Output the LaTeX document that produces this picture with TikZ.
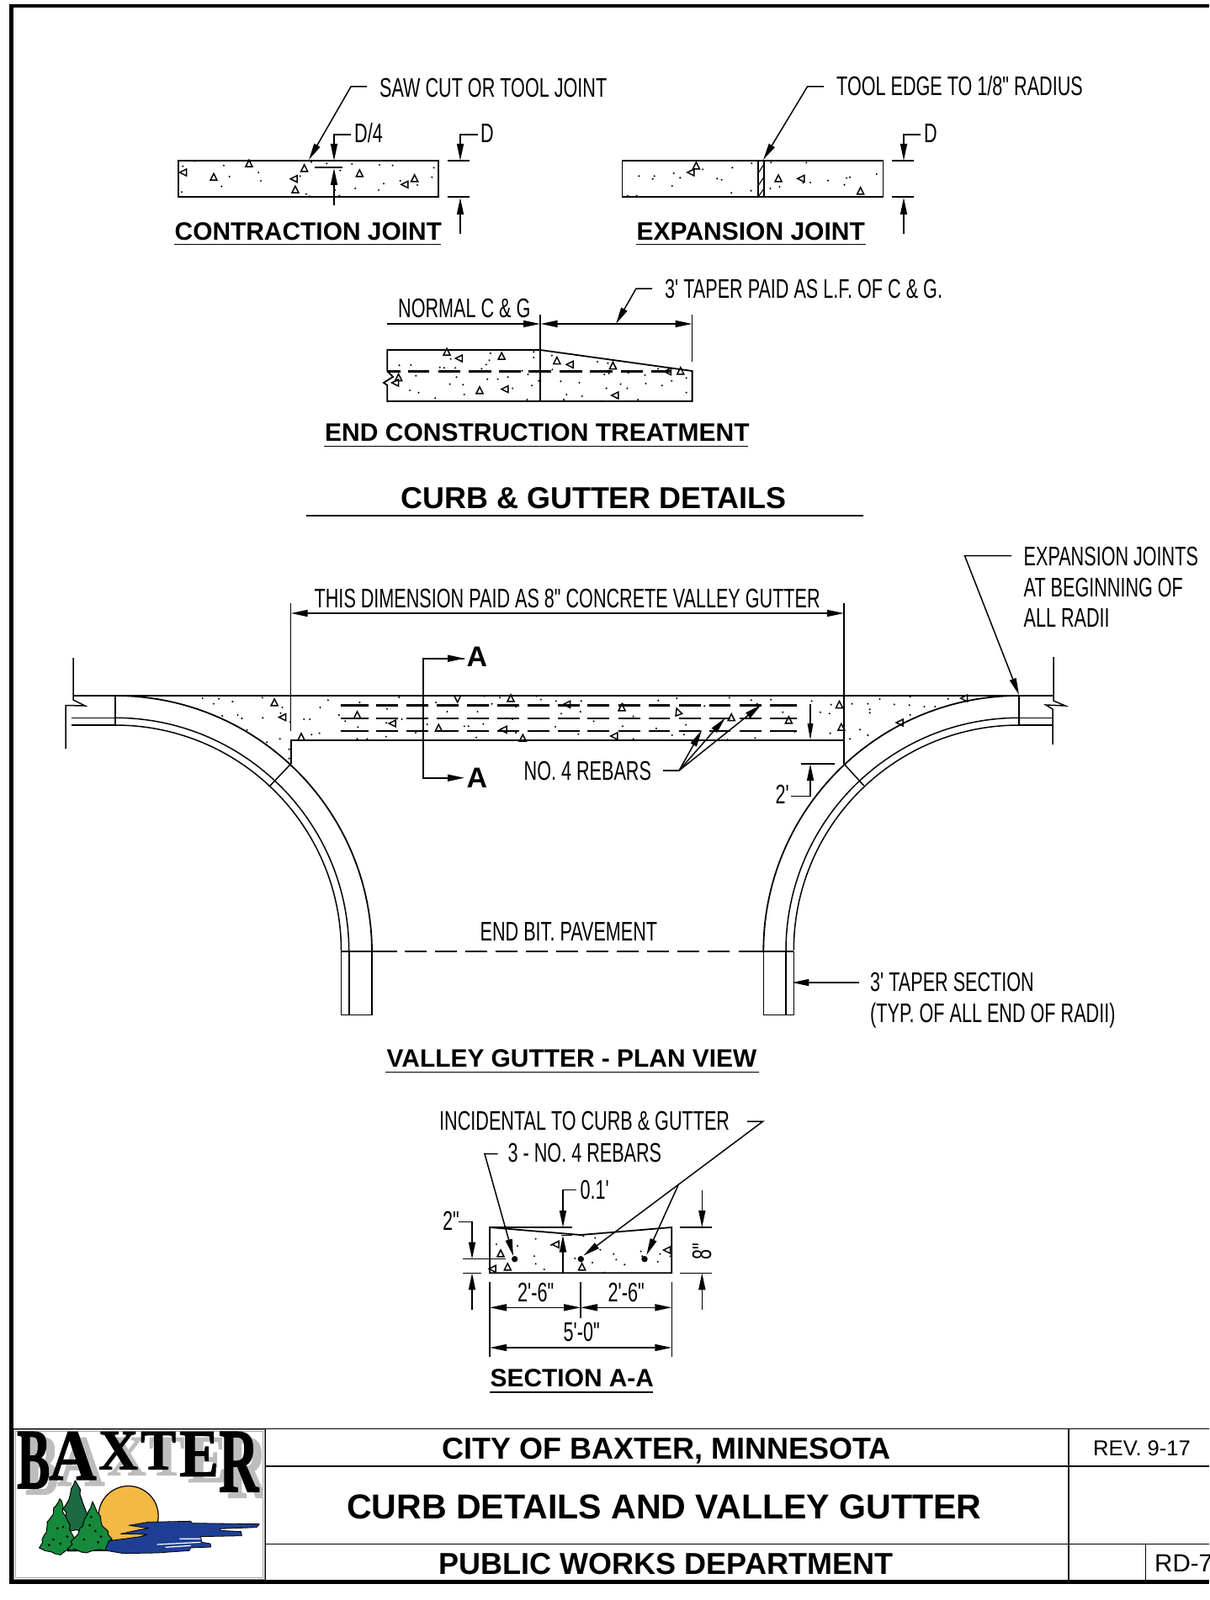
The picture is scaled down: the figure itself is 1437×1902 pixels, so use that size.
\documentclass[tikz,border=0pt]{standalone}
\usepackage{fontspec}
\usetikzlibrary{arrows.meta,decorations.pathmorphing}
\newfontfamily\cadfam[FakeStretch=0.675]{Liberation Sans}
\newfontfamily\hdfam{Liberation Sans}
\newfontfamily\logofam[FakeBold=1.5]{Liberation Serif}
\newcommand{\cadfont}{\cadfam\fontsize{32pt}{32pt}\selectfont}
\newcommand{\hdfont}[1]{\hdfam\bfseries\fontsize{#1pt}{#1pt}\selectfont}
\newcommand{\ctri}[3]{\draw[line width=1.5pt,line join=miter,shift={(#1,#2)},rotate=#3] (-4pt,-3.2pt)--(4pt,-3.2pt)--(0pt,4.8pt)--cycle;}
\newcommand{\spk}[1]{\foreach \a/\b in {#1} \fill (\a,\b) circle (1.15pt);}
\newcommand{\tris}[1]{\foreach \a/\b/\c in {#1} {\ctri{\a}{\b}{\c}}}
\newcommand{\logolet}[8]{\node[inner sep=0pt,anchor=north west,#8,rotate=#7] (#1) at (#2,#3) {\logofam\bfseries\fontsize{60pt}{60pt}\selectfont\scalebox{#5}[#6]{#4}};}
\definecolor{logoblue}{HTML}{1F3F94}
\definecolor{logosun}{HTML}{F4B942}
\definecolor{treelt}{HTML}{15893C}
\definecolor{treedk}{HTML}{1B6A40}
\definecolor{logogray}{HTML}{BDBDBD}
\tikzset{
 ol/.style={line width=1.8pt},
 ln/.style={line width=1.5pt},
 tip/.style={-{Triangle[length=20pt,width=8pt]},line width=1.5pt},
 cad/.style={font=\cadfont,anchor=base west,inner sep=0pt},
 hd/.style={anchor=base west,inner sep=0pt},
 zone2/.style={xshift=700pt,yshift=-70pt,x=0.3827pt,y=-0.3333pt},
 zone1/.style={xshift=190pt,yshift=-70pt,x=0.3333pt,y=-0.3333pt},
 zone3/.style={xshift=430pt,yshift=-320pt,x=0.4591pt,y=-0.3333pt},
 zone4/.style={xshift=60pt,yshift=-760pt,x=0.4082pt,y=-0.3333pt},
 zone5/.style={xshift=700pt,yshift=-640pt,x=0.47pt,y=-0.3333pt},
 zone7/.style={xshift=500pt,yshift=-1300pt,x=0.3333pt,y=-0.3333pt},
 zone8/.style={xshift=0pt,yshift=-1680pt,x=0.3333pt,y=-0.3333pt},
 treeedge/.style={line width=1pt,line join=round,decorate,decoration={random steps,segment length=6pt,amplitude=2.4pt}},
}
\begin{document}
\begin{tikzpicture}[x=1pt,y=-1pt,line cap=butt]
\useasboundingbox (0,0) rectangle (1437,1902);
\clip (0,0) rectangle (1437,1902);
\fill[white] (0,0) rectangle (1437,1902);

%% frame
\fill[black] (11,5) rectangle (16,1883);
\fill[black] (11,5) rectangle (1437,9);
\fill[black] (11,1878) rectangle (1437,1883);

%% ---------- contraction joint
\draw[ol] (212,191) rectangle (521,234);
\begin{scope}[zone1]
\spk{82/383,228/380,248/420,220/455,352/405,360/435,78/475,540/368,595/373,643/398,685/375,783/378,830/380,977/388,970/422,857/435,918/450,798/445,780/468,697/462,625/468,640/488,535/490,522/482,500/418,125/365}
\tris{85/405/90,192/423/0,318/375/0,515/392/0,480/428/90,483/468/0,712/410/0,875/448/90,908/428/0}
\end{scope}
\node[cad] (sawtxt) at (451,115.5) {SAW CUT OR TOOL JOINT};
\draw[tip] (436,103)--(417,103)--(367,190);
\node[cad] (d4txt) at (421,170) {D/4};
\draw[tip] (417,160)--(397,160)--(397,191);
\draw[ln] (374,199)--(407,199);
\draw[tip] (397,244)--(397,200);
\node[cad] (dtxt1) at (571,170) {D};
\draw[tip] (568,160)--(547,160)--(547,191);
\draw[ln] (532,191)--(558,191) (532,234)--(558,234);
\draw[tip] (547,278)--(547,235);
\node[hd,font=\hdfont{29.9}] (conttitle) at (207.5,285) {CONTRACTION JOINT};
\draw[ln] (207,290.5)--(524,290.5);

%% ---------- expansion joint
\draw[ol] (739.5,191) rectangle (1049.5,234);
\draw[ol] (901,191)--(901,234) (908,191)--(908,234);
\draw[line width=1.1pt] (901,206)--(908,195) (901,221)--(908,210) (901,234)--(908,224);
\begin{scope}[zone2]
\spk{155/418,203/418,198/428,263/408,283/424,258/453,353/394,445/388,398/427,412/431,505/372,503/470,442/478,565/370,675/370,563/462,592/456,665/442,687/441,742/434,800/425,810/422,793/449,893/411,120/488,148/488}
\tris{333/383/0,318/405/90,588/428/0,660/427/90,843/473/0}
\end{scope}
\node[cad] (tooltxt) at (994,114) {TOOL EDGE TO 1/8" RADIUS};
\draw[tip] (979,103)--(959.5,103)--(907,190);
\node[cad] (dtxt2) at (1098,170) {D};
\draw[tip] (1094,160)--(1074,160)--(1074,191);
\draw[ln] (1060,191)--(1086,191) (1060,234)--(1086,234);
\draw[tip] (1074,278)--(1074,235);
\node[hd,font=\hdfont{30}] (exptitle) at (756.5,285) {EXPANSION JOINT};
\draw[ln] (756,290.5)--(1029,290.5);

%% ---------- end construction
\draw[ol] (460.3,441)--(460.3,416)--(642,416)--(822.6,441)--(822.6,477)--(460.3,477)--(460.3,458)--(456,455)--(467,448)--cycle;
\draw[ol] (642,374)--(642,415);
\draw[ol] (642,416)--(642,477);
\draw[ln] (822.6,374)--(822.6,430);
\begin{scope}[zone3]
\foreach \a/\b in {66/100,120/175,198/255,277/335,355/412,432/490,512/570,590/648,670/727,750/800}
 \draw[line width=2.5pt] (\a,365)--(\b,365);
\spk{230/320,333/300,445/295,445/315,330/325,322/340,310/355,202/350,213/352,242/352,97/343,127/342,165/362,140/380,245/385,325/392,352/392,378/385,430/375,415/362,458/398,228/410,262/412,124/432,147/440,190/460,265/447,390/425,440/415,428/465,492/308,493/358,610/330,637/335,640/372,628/375,515/400,563/405,633/425,670/410,687/425,735/408,777/415,802/398,733/378,690/370,767/355,840/388,840/440,530/447,570/453,523/465,715/465,620/470}
\tris{220/297/0,253/318/90,362/312/0,505/328/0,540/340/90,650/346/0,305/434/0,372/428/90,95/388/0,88/405/90,657/450/90,793/365/90,825/365/0}
\end{scope}
\draw[tip] (460.3,385)--(642,385);
\draw[tip] (700,385)--(822.6,385);
\draw[tip] (700,385)--(642.5,385);
\node[cad] (normtxt) at (473,377.5) {NORMAL C \& G};
\node[cad] (tapertxt) at (790,354) {3' TAPER PAID AS L.F. OF C \& G.};
\draw[tip] (775,343)--(756,343)--(732,385);
\node[hd,font=\hdfont{30}] (endtitle) at (386,524) {END CONSTRUCTION TREATMENT};
\draw[ln] (385,530.5)--(889,530.5);
\node[hd,font=\hdfont{35.9}] (curbtitle) at (476.5,604.5) {CURB \& GUTTER DETAILS};
\draw[ln] (364,613)--(1026,613);

%% ---------- plan view
\draw[ln] (87,782)--(87,832)--(101,839)--(78,838.5)--(78,890);
\draw[ln] (1252,781)--(1252,833)--(1266,839)--(1243,838)--(1251,843)--(1251,885);
\draw[ol] (87,827)--(1251,827);
\draw[ln] (85,853.3)--(137,853.3) (85,862)--(137,862);
\draw[ln] (1211,853.3)--(1251,853.3) (1211,862)--(1251,862);
\draw[line width=2.6pt] (137,826)--(137,862);
\draw[line width=2.6pt] (1211,826)--(1211,862);
\draw[ol] (137,827) arc[start angle=90,end angle=0,radius=305pt];
\draw[ln] (137,853.3) arc[start angle=90,end angle=0,radius=277.7pt];
\draw[ln] (137,862) arc[start angle=90,end angle=0,radius=268.5pt];
\draw[ol] (1211,827) arc[start angle=90,end angle=180,radius=303.7pt];
\draw[ln] (1211,853.3) arc[start angle=90,end angle=180,radius=277pt];
\draw[ln] (1211,862) arc[start angle=90,end angle=180,radius=267.7pt];
% strips
\draw[ln] (405.5,1131)--(405.5,1206.7)--(442,1206.7)--(442,1131) (415,1131)--(415,1206.7);
\draw[ln] (907.3,1131)--(907.3,1206.7)--(943.3,1206.7)--(943.3,1131) (934,1131)--(934,1206.7);
\draw[ln] (405.5,1131)--(471.5,1131);
\foreach \a in {481.4,517.4,553.4,589.4,625.4,661.4,697.4,733.4,769.4,805.4,841.4}
 \draw[line width=1.8pt] (\a,1131)--(\a+26,1131);
\draw[ln] (877.5,1131)--(943.3,1131);
% gutter
\draw[ol] (345.7,908)--(345.7,880)--(1003,880)--(1003,908);
\draw[ln] (345.7,908)--(321,934);
\draw[ln] (1003,908)--(1026.7,934);
\draw[ln] (345.7,717)--(345.7,869);
\draw[ln] (1003,717)--(1003,880);
\draw[tip] (660,729)--(345.7,729);
\draw[tip] (660,729)--(1003,729);
\node[cad] (thistxt) at (373.5,722) {THIS DIMENSION PAID AS 8" CONCRETE VALLEY GUTTER};
% rebars
\foreach \y in {838.3,854,869}
 \foreach \a/\b in {405/437.5,447/473,482.5/509,519/545,555/581,590.6/617,626.5/653,662.5/688.6,698/724.4,735/761,771.4/796,807/832.5,843/868,878.6/904.5,915/946.8}
  \draw[line width=2.6pt] (\a,\y)--(\b,\y);
\begin{scope}[zone4]
\spk{443/210,490/212,530/222,475/230,617/208,500/273,545/270,557/282,618/280,572/323,630/367,668/355,675/243,670/263,698/295,738/285,755/285,695/392,695/425,760/340,783/335,808/217,785/243,840/270,858/292,900/225,980/248,1015/207,1023/285,978/298,895/313,893/355,922/355,977/347,1063/333,1097/303,1122/225,1155/258,1243/258,1285/230,1205/310,1217/310,1260/302,1240/350,1345/285,1355/240,1263/203,1308/208,1415/203,1428/215,1472/220,1487/265,1545/220,1543/258,1470/312,1537/338,1355/333}
\tris{652/227/0,677/278/90,730/350/0,893/272/0,997/300/90,1130/318/0,1185/210/180,1340/212/0,1505/232/90,1320/322/90,1375/354/0}
\end{scope}
\begin{scope}[zone5]
\spk{175/578,222/570,250/562,355/568,410/577,460/575,85/590,292/598,112/635,12/652,85/670,170/678,245/665,210/702,240/700,320/675,420/712,350/718,112/715,425/590,490/620,520/690,563/580,585/620,608/625,612/593,610/695,660/715,685/682,705/702,665/590,705/590,710/610,710/622,735/573,772/592,812/565,810/595,848/600,908/572,875/600,812/630}
\tris{83/605/0,225/620/20,360/640/0,505/650/0,65/705/90,633/595/0,638/675/0,950/570/90,787/657/90}
\end{scope}
% section marks
\draw[tip,line width=1.8pt] (552,782.7)--(503,782.7)--(503,924.7)--(552,924.7);
\draw[-{Triangle[length=20pt,width=8pt]},line width=1.8pt] (503,782.7)--(552,782.7);
\node[hd,font=\hdfont{34}] (amark1) at (554.5,792) {A};
\node[hd,font=\hdfont{34}] (amark2) at (554.5,936) {A};
\node[cad] (rebartxt) at (622.5,927) {NO. 4 REBARS};
\draw[ln] (788.4,916)--(807,916);
\draw[tip] (807,916)--(834,868);
\draw[tip] (807,916)--(862,853.3);
\draw[tip] (807,916)--(904.5,838);
\draw[-{Triangle[length=20pt,width=6.5pt]},ln] (963,836.7)--(963,880);
\draw[ln] (951.5,880)--(1003,880);
\draw[ln] (951.5,908)--(992,908);
\draw[tip] (940,946.7)--(963,946.7)--(963,908);
\node[cad] (twotxt) at (921.5,955.5) {2'};
\node[cad] (exp1) at (1216.5,672) {EXPANSION JOINTS};
\node[cad] (exp2) at (1216.5,709.5) {AT BEGINNING OF};
\node[cad] (exp3) at (1216.5,745.5) {ALL RADII};
\draw[tip] (1202,660.7)--(1146.5,660.7)--(1211,826);
\node[cad] (bittxt) at (570.5,1118.5) {END BIT. PAVEMENT};
\node[cad] (tap1) at (1034,1178.7) {3' TAPER SECTION};
\node[cad] (tap2) at (1034,1215) {(TYP. OF ALL END OF RADII)};
\draw[tip] (1021,1168)--(941.4,1168);
\node[hd,font=\hdfont{29.9}] (plantitle) at (459.5,1268.5) {VALLEY GUTTER - PLAN VIEW};
\draw[ln] (458,1274.5)--(902,1274.5);

%% ---------- section A-A
\draw[ol] (582,1459)--(582,1513.3)--(798.3,1513.3)--(798.3,1459)--(690,1468)--cycle;
\draw[ol] (582,1459)--(680,1459);
\draw[ln] (667,1468.3)--(680,1468.3);
\draw[tip,line width=1.8pt] (669,1513)--(669,1468.5);
\begin{scope}[zone7]
\spk{270/538,345/543,410/518,465/540,580/508,622/515,405/580,410/607,440/627,550/588,612/603,640/557,688/572,697/592,727/610,785/563,790/580,853/572,845/600,890/580,655/638}
\tris{285/572/0,483/538/90,575/620/0,310/620/0,258/625/90,880/558/90}
\end{scope}
\fill (611.7,1496.7) circle (3.7pt) (690.3,1496.7) circle (3.7pt) (766,1496.7) circle (3.7pt);
\node[cad] (inctxt) at (522,1343.5) {INCIDENTAL TO CURB \& GUTTER};
\node[cad] (threetxt) at (603.5,1381) {3 - NO. 4 REBARS};
\draw[tip] (591.7,1371.7)--(576,1371.7)--(610,1493);
\draw[tip] (888,1333)--(906.7,1333)--(693.3,1492.7);
\draw[tip] (806.7,1407.3)--(768.3,1492);
\node[cad] (ptone) at (689.5,1425) {0.1'};
\draw[tip] (685,1414.7)--(669,1414.7)--(669,1459);
\node[cad] (twoin) at (526,1462.5) {2"};
\draw[tip] (545,1452.7)--(561,1452.7)--(561,1496.7);
\draw[ln] (550,1496.7)--(601,1496.7);
\draw[ln] (550,1513.3)--(571.7,1513.3);
\draw[tip] (561,1557)--(561,1513.3);
\draw[ln] (808.3,1459)--(846,1459) (808.3,1513.3)--(846,1513.3);
\draw[tip] (834.3,1415)--(834.3,1459);
\draw[tip] (834.3,1557)--(834.3,1513.3);
\node[font=\cadfont,inner sep=0pt,rotate=90] (eight) at (834,1488) {8"};
\draw[ln] (582,1524)--(582,1613) (798.3,1524)--(798.3,1613) (690,1524)--(690,1566.7);
\draw[tip] (636,1554.3)--(582,1554.3);
\draw[tip] (636,1554.3)--(690,1554.3);
\draw[tip] (744,1554.3)--(690,1554.3);
\draw[tip] (744,1554.3)--(798.3,1554.3);
\draw[tip] (690,1602)--(582,1602);
\draw[tip] (690,1602)--(798.3,1602);
\node[cad] (sixa) at (615,1547) {2'-6"};
\node[cad] (sixb) at (722.5,1547) {2'-6"};
\node[cad] (fivezero) at (669.5,1594.5) {5'-0"};
\node[hd,font=\hdfont{29.9}] (secttitle) at (582.5,1648) {SECTION A-A};
\draw[ln] (582,1655)--(776,1655);

%% ---------- title block
\draw[ln] (16,1698.3)--(1437,1698.3);
\draw[line width=1.8pt] (316,1743.3)--(1437,1743.3);
\draw[ln] (316,1835.7)--(1437,1835.7);
\draw[line width=1.8pt] (1270,1698.3)--(1270,1878);
\draw[ln] (1361.7,1835.7)--(1361.7,1878);
\draw[line width=1.8pt] (315.5,1698.3)--(315.5,1878);
\node[hd,font=\hdfont{36}] (citytxt) at (525,1734) {CITY OF BAXTER, MINNESOTA};
\node[hd,font=\hdfont{41.1}] (curbdet) at (412,1805.7) {CURB DETAILS AND VALLEY GUTTER};
\node[hd,font=\hdfont{36}] (pubtxt) at (521.5,1871) {PUBLIC WORKS DEPARTMENT};
\node[hd,font={\hdfam\fontsize{25.6pt}{25.6pt}\selectfont}] (revtxt) at (1299,1730) {REV. 9-17};
\node[hd,font={\hdfam\fontsize{29.5pt}{29.5pt}\selectfont}] (rdtxt) at (1372,1868) {RD-7};

%% ---------- logo
\draw[line width=1.2pt,gray] (16.8,1699.5) rectangle (314.3,1877.3);
\draw[line width=0.9pt,gray!70] (18.3,1701) rectangle (312.8,1875.8);
\begin{scope}
\clip (18.3,1701) rectangle (312.8,1875.8);
\begin{scope}[shift={(10pt,-7pt)}]
\logolet{sb}{20}{1702}{B}{0.98}{1.7}{0}{logogray}
\logolet{sa}{58}{1702}{A}{1.3}{1.43}{0}{logogray}
\logolet{sx}{117}{1702}{X}{1.08}{1.13}{0}{logogray}
\logolet{st}{167}{1702}{T}{1.05}{1.13}{0}{logogray}
\logolet{se}{213}{1702}{E}{1.17}{1.34}{0}{logogray}
\logolet{sr}{260}{1702}{R}{1.09}{1.8}{0}{logogray}
\end{scope}
\logolet{lb}{20}{1702}{B}{0.98}{1.7}{0}{black}
\logolet{la}{58}{1702}{A}{1.3}{1.43}{0}{black}
\logolet{lx}{117}{1702}{X}{1.08}{1.13}{0}{black}
\logolet{lt}{167}{1702}{T}{1.05}{1.13}{0}{black}
\logolet{le}{213}{1702}{E}{1.17}{1.34}{0}{black}
\logolet{lr}{260}{1702}{R}{1.09}{1.8}{0}{black}
\end{scope}
\begin{scope}[zone8]
\draw[fill=logosun,line width=1.2pt] (458,366) circle (35.5pt);
\fill[logosun] (390,445)--(530,445)--(530,430)--(390,430)--cycle;
\draw[fill=logoblue,line width=0.8pt,line join=round] (530,388)--(680,385)--(685,392)--(925,395)--(915,407)--(785,412)--(785,418)--(860,422)--(862,437)--(715,440)--(720,460)--(750,465)--(752,477)--(680,480)--(675,490)--(560,498)--(440,500)--(380,490)--(240,492)--(260,478)--(390,455)--(500,440)--(525,432)--(430,430)--(500,415)--(530,410)--(460,400)--cycle;
\draw[white,line width=1.2pt] (560,468)--(715,460) (590,478)--(680,472) (640,448)--(715,448);
\draw[fill=treedk,treeedge] (268,240)--(285,290)--(305,345)--(315,370)--(290,420)--(250,420)--(225,340)--(245,310)--cycle;
\draw[fill=treelt,treeedge] (213,305)--(225,335)--(235,370)--(250,400)--(262,440)--(270,465)--(235,490)--(215,505)--(185,495)--(160,490)--(140,480)--(150,450)--(165,425)--(175,380)--(190,360)--(200,330)--cycle;
\draw[fill=treelt,treeedge] (330,315)--(345,350)--(360,385)--(385,420)--(400,450)--(380,475)--(375,490)--(330,490)--(290,495)--(240,485)--(265,445)--(285,410)--(300,380)--(315,350)--cycle;
\foreach \a/\b in {205/410,225/405,190/450,240/440,320/400,340/420,300/450,350/460,325/370,215/465,175/470,360/440}
 \fill (\a,\b) circle (1.5pt);
\end{scope}
\end{tikzpicture}
\end{document}
